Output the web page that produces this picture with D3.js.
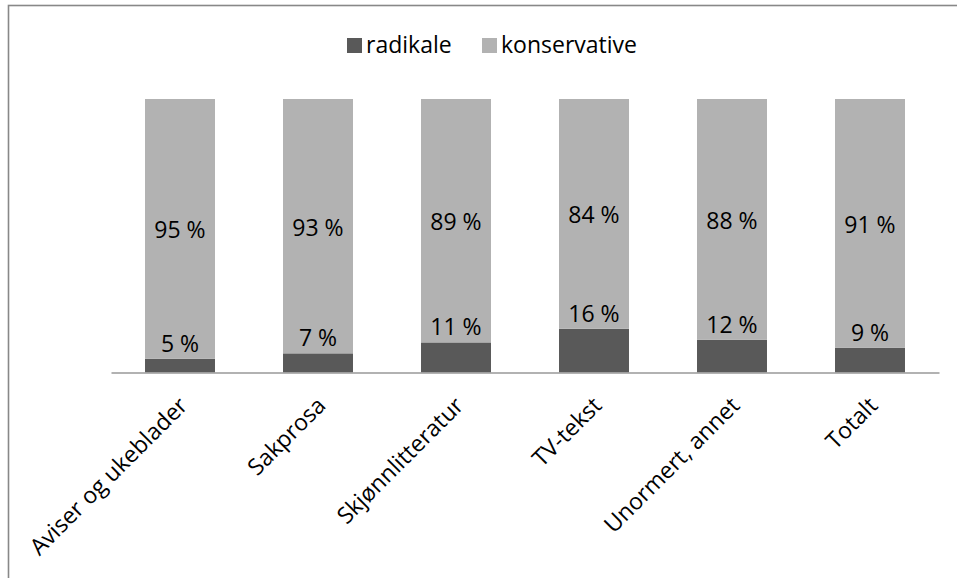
<!DOCTYPE html>
<html>
<head>
<meta charset="utf-8">
<script src="https://cdn.jsdelivr.net/npm/d3@7/dist/d3.min.js"></script>
<style>
  body { margin: 0; background: #fff; }
  text { font-family: "Open Sans", sans-serif; }
</style>
</head>
<body>
<div id="viz"></div>
<script>
var categories = ["Aviser og ukeblader", "Sakprosa", "Skjønnlitteratur", "TV-tekst", "Unormert, annet", "Totalt"],
    radikale = [5, 7, 11, 16, 12, 9],
    konservative = [95, 93, 89, 84, 88, 91],
    seriesNames = ["radikale", "konservative"],
    colors = ["#595959", "#b2b2b2"];

var width = 957, height = 578;

var svg = d3.select("#viz")
    .append("svg")
    .attr("width", width)
    .attr("height", height);

// outer chart frame (cropped at right/bottom)
svg.append("rect")
    .attr("x", 8.5)
    .attr("y", 5.5)
    .attr("width", 1200)
    .attr("height", 1200)
    .style("fill", "none")
    .style("stroke", "#888")
    .style("stroke-width", 1.6);

var x = d3.scaleBand()
    .domain(categories)
    .range([111, 939])
    .paddingInner(0.493)
    .paddingOuter(0.2465);

var y = d3.scaleLinear()
    .domain([0, 100])
    .range([372.5, 99]);

var rows = categories.map(function(c, i){
    return {cat: c, radikale: radikale[i], konservative: konservative[i]};
});

var stacked = d3.stack().keys(seriesNames)(rows);

svg.selectAll("g.series")
    .data(stacked)
    .enter().append("g")
    .attr("class", "series")
    .style("fill", function(d, i){return colors[i];})
    .selectAll("rect")
    .data(function(d){return d;})
    .enter().append("rect")
    .attr("x", function(d){return x(d.data.cat);})
    .attr("width", x.bandwidth())
    .attr("y", function(d){return y(d[1]);})
    .attr("height", function(d){return y(d[0]) - y(d[1]);});

// axis line
var xAxis = d3.axisBottom(x).tickSize(0).tickFormat("");
var gx = svg.append("g")
    .attr("transform", "translate(0," + y(0) + ")")
    .call(xAxis);
gx.select(".domain")
    .attr("stroke", "#999")
    .attr("stroke-width", 1.6);

// category labels, rotated
svg.selectAll("text.cat")
    .data(categories)
    .enter().append("text")
    .attr("class", "cat")
    .attr("text-anchor", "end")
    .attr("transform", function(d){
        return "translate(" + (x(d) + x.bandwidth() / 2 + 9) + ",407) rotate(-45)";
    })
    .style("font-size", "23px")
    .style("fill", "#000")
    .text(function(d){return d;});

// radikale labels sit just above the dark segment
svg.selectAll("text.rad")
    .data(stacked[0])
    .enter().append("text")
    .attr("class", "rad")
    .attr("text-anchor", "middle")
    .attr("x", function(d){return x(d.data.cat) + x.bandwidth() / 2;})
    .attr("y", function(d){return y(d[1]) - 7;})
    .style("font-size", "23px")
    .style("fill", "#000")
    .text(function(d){return (d[1] - d[0]) + " %";});

// konservative labels centred in the light segment
svg.selectAll("text.kons")
    .data(stacked[1])
    .enter().append("text")
    .attr("class", "kons")
    .attr("text-anchor", "middle")
    .attr("x", function(d){return x(d.data.cat) + x.bandwidth() / 2;})
    .attr("y", function(d){return (y(d[0]) + y(d[1])) / 2 + 1.5;})
    .attr("dy", "0.35em")
    .style("font-size", "23px")
    .style("fill", "#000")
    .text(function(d){return (d[1] - d[0]) + " %";});

// legend
var legendX = [347, 482];
var legend = svg.selectAll("g.legend")
    .data(seriesNames)
    .enter().append("g")
    .attr("class", "legend")
    .attr("transform", function(d, i){return "translate(" + legendX[i] + ",0)";});

legend.append("rect")
    .attr("x", 0)
    .attr("y", 38)
    .attr("width", 15)
    .attr("height", 15)
    .style("fill", function(d, i){return colors[i];});

legend.append("text")
    .attr("x", 19)
    .attr("y", 53)
    .style("font-size", "23px")
    .style("fill", "#000")
    .text(function(d){return d;});
</script>
</body>
</html>
